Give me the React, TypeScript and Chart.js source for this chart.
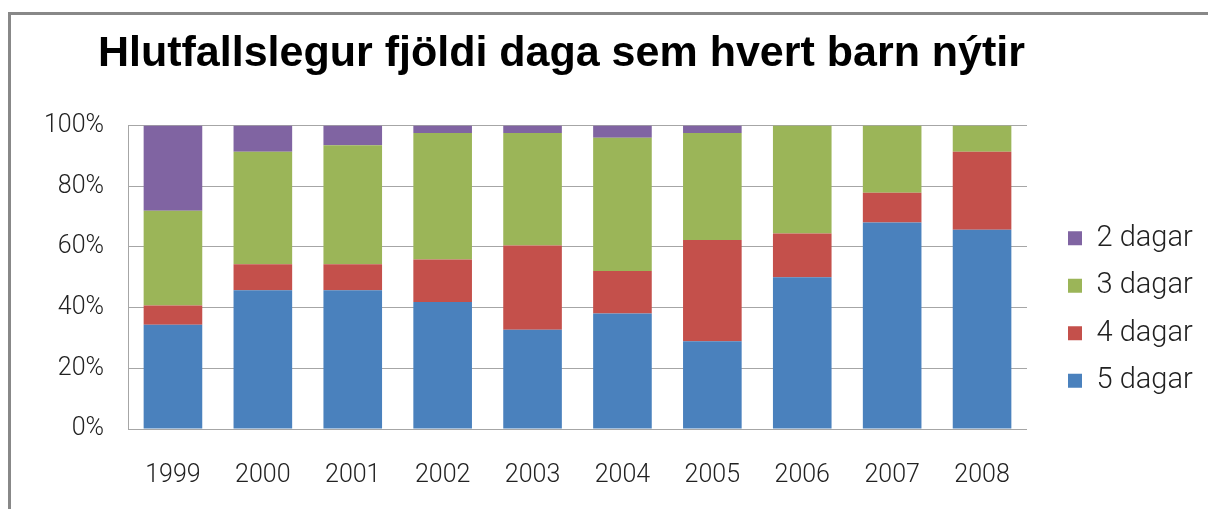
import React, { useEffect, useRef } from "react";
import { Chart, registerables } from "chart.js";

Chart.register(...registerables);

const TITLE = "Hlutfallslegur fjöldi daga sem hvert barn nýtir";
const years = ["1999", "2000", "2001", "2002", "2003", "2004", "2005", "2006", "2007", "2008"];
const dagar5 = [34.4, 45.7, 45.7, 41.9, 32.7, 38.1, 28.9, 50.0, 68.1, 65.7];
const dagar4 = [6.3, 8.6, 8.6, 14.0, 27.8, 14.0, 33.4, 14.4, 9.8, 25.7];
const dagar3 = [31.2, 37.1, 39.2, 41.7, 37.1, 43.9, 35.3, 35.6, 22.1, 8.6];
const dagar2 = [28.1, 8.6, 6.5, 2.4, 2.4, 4.0, 2.4, 0, 0, 0];
const yTicks = [0, 20, 40, 60, 80, 100];

const COLORS = {
  d5: "#4A81BD",
  d4: "#C4504B",
  d3: "#9BB558",
  d2: "#8064A2",
};

// canvas spans page x from CANVAS_LEFT to CANVAS_LEFT + CANVAS_W
const CANVAS_LEFT = -75;
const CANVAS_W = 1273;

export default function App() {
  const ref = useRef<HTMLCanvasElement | null>(null);
  useEffect(() => {
    if (!ref.current) return;
    const tickFont = { family: "Roboto", size: 25, weight: 300 as any };
    const chart = new Chart(ref.current, {
      type: "bar",
      data: {
        labels: years,
        datasets: [
          { label: "5 dagar", data: dagar5, backgroundColor: COLORS.d5 },
          { label: "4 dagar", data: dagar4, backgroundColor: COLORS.d4 },
          { label: "3 dagar", data: dagar3, backgroundColor: COLORS.d3 },
          { label: "2 dagar", data: dagar2, backgroundColor: COLORS.d2 },
        ],
      },
      options: {
        responsive: false,
        animation: false,
        layout: { padding: { left: 0, right: 0, top: 0, bottom: 0 } },
        datasets: { bar: { barPercentage: 0.652, categoryPercentage: 1 } },
        plugins: {
          title: {
            display: true,
            text: TITLE,
            align: "center",
            color: "#000",
            font: { family: "Liberation Sans", size: 43, weight: "bold" },
            padding: { top: 28, bottom: 46 },
          },
          legend: {
            position: "right",
            reverse: true,
            maxWidth: 148.5,
            title: {
              display: true,
              text: "",
              font: { size: 10 },
              padding: { top: 98, bottom: 0 },
            },
            labels: {
              boxWidth: 14,
              boxHeight: 14,
              padding: 18.5,
              color: "#222",
              font: { family: "Roboto", size: 29, weight: 300 as any },
            },
          },
          tooltip: { enabled: false },
        },
        scales: {
          x: {
            stacked: true,
            grid: { display: false, drawTicks: false },
            border: { display: false },
            ticks: { color: "#222", font: tickFont, padding: 31.5, maxRotation: 0 },
            afterFit: (s: any) => {
              s.height = 80;
            },
          },
          y: {
            stacked: true,
            min: 0,
            max: 100,
            afterBuildTicks: (s: any) => {
              s.ticks = yTicks.map((v) => ({ value: v }));
            },
            grid: { color: "#A6A6A6", lineWidth: 1, drawTicks: false },
            border: { display: true, color: "#A6A6A6", width: 1 },
            ticks: {
              color: "#222",
              font: tickFont,
              padding: 24,
              callback: (v: any) => v + "%",
            },
            afterFit: (s: any) => {
              s.width = 128 - CANVAS_LEFT;
            },
          },
          gap: {
            position: "right",
            display: true,
            grid: { display: false, drawTicks: false },
            border: { display: false },
            ticks: { display: false },
            afterFit: (s: any) => {
              s.width = 22.5;
            },
          },
        },
      },
    });
    return () => chart.destroy();
  }, []);

  return (
    <div style={{ position: "fixed", left: 0, top: 0, width: 1208, height: 509, background: "#fff", overflow: "hidden" }}>
      <div
        style={{
          position: "absolute",
          left: 8,
          top: 12,
          width: 1208,
          height: 600,
          borderLeft: "3px solid #888",
          borderTop: "3px solid #888",
        }}
      />
      <canvas
        ref={ref}
        width={CANVAS_W}
        height={509}
        style={{ position: "absolute", left: CANVAS_LEFT, top: 0 }}
      />
    </div>
  );
}
